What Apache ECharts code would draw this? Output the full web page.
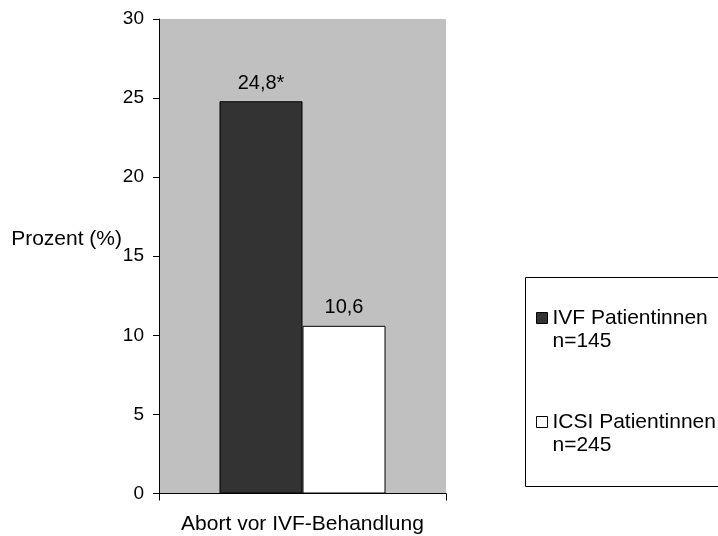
<!DOCTYPE html>
<html>
<head>
<meta charset="utf-8">
<script src="https://cdn.jsdelivr.net/npm/echarts@6/dist/echarts.min.js"></script>
<style>
  html, body { margin: 0; padding: 0; background: #fff; }
  #chart { width: 718px; height: 536px; }
</style>
</head>
<body>
<div id="chart"></div>
<script>
// Abortrate vor der Behandlung, IVF- vs. ICSI-Patientinnen
const categories = ['Abort vor IVF-Behandlung'];
const seriesNames = ['IVF Patientinnen', 'ICSI Patientinnen'];
const sampleSizes = ['n=145', 'n=245'];
const ivfValues = [24.8];
const icsiValues = [10.6];
const significance = ['*', ''];
const yTicks = [0, 5, 10, 15, 20, 25, 30];

const FONT = 'Liberation Sans, Arial, sans-serif';

const fmtDecimal = v => String(v).replace('.', ',');

function barSeries(name, values, color, mark) {
  return {
    name: name,
    type: 'bar',
    data: values,
    barWidth: 83,
    barGap: '0%',
    itemStyle: { color: color, borderColor: '#000', borderWidth: 1 },
    label: {
      show: true,
      position: 'top',
      distance: 8,
      color: '#000',
      fontFamily: FONT,
      fontSize: 20,
      formatter: p => fmtDecimal(p.value) + mark
    }
  };
}

// One legend per series so each entry can be placed on its own;
// a blank first line keeps the icon level with the series name.
function legendFor(idx, top) {
  return {
    data: [seriesNames[idx]],
    left: 536,
    top: top,
    padding: 0,
    orient: 'vertical',
    icon: 'rect',
    itemWidth: 11,
    itemHeight: 11,
    selectedMode: false,
    itemStyle: { borderColor: '#000', borderWidth: 1 },
    formatter: name => ' \n' + name + '\n' + sampleSizes[idx],
    textStyle: {
      color: '#000',
      fontFamily: FONT,
      fontSize: 21,
      lineHeight: 23
    }
  };
}

const chart = echarts.init(document.getElementById('chart'), null, { renderer: 'canvas' });
chart.setOption({
  animation: false,
  backgroundColor: '#fff',
  textStyle: { fontFamily: FONT },
  grid: {
    left: 159, top: 19, width: 287, height: 474.5,
    show: true, backgroundColor: '#c0c0c0', borderWidth: 0,
    containLabel: false
  },
  xAxis: {
    type: 'category',
    data: categories,
    axisLine: { lineStyle: { color: '#000', width: 1 } },
    axisTick: { show: true, length: 7, lineStyle: { color: '#000' } },
    axisLabel: { color: '#000', fontFamily: FONT, fontSize: 21, margin: 20 }
  },
  yAxis: {
    type: 'value',
    min: yTicks[0],
    max: yTicks[yTicks.length - 1],
    interval: yTicks[1] - yTicks[0],
    name: 'Prozent (%)',
    nameLocation: 'middle',
    nameRotate: 0,
    nameGap: 37,
    nameMoveOverlap: false,
    nameTextStyle: {
      color: '#000', fontFamily: FONT, fontSize: 21,
      align: 'right', verticalAlign: 'bottom',
      lineHeight: 35
    },
    axisLine: { show: true, lineStyle: { color: '#000', width: 1 } },
    axisTick: { show: true, length: 6, lineStyle: { color: '#000' } },
    axisLabel: { color: '#000', fontFamily: FONT, fontSize: 19, margin: 15 },
    splitLine: { show: false }
  },
  legend: [legendFor(0, 283.5), legendFor(1, 387.5)],
  graphic: [{
    type: 'rect',
    shape: { x: 525.5, y: 277.5, width: 230, height: 209 },
    style: { fill: 'none', stroke: '#000', lineWidth: 1 },
    silent: true,
    z: 0
  }],
  series: [
    barSeries(seriesNames[0], ivfValues, '#333333', significance[0]),
    barSeries(seriesNames[1], icsiValues, '#ffffff', significance[1])
  ]
});
</script>
</body>
</html>
